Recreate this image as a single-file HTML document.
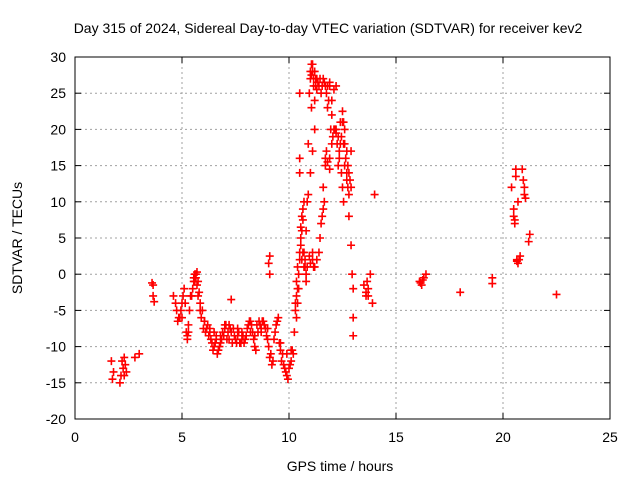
<!DOCTYPE html>
<html><head><meta charset="utf-8"><style>
body{margin:0;background:#fff}
svg text{font-family:"Liberation Sans",sans-serif;font-size:14px;fill:#000}
</style></head><body>
<svg id="chart" width="640" height="480" viewBox="0 0 640 480" xmlns="http://www.w3.org/2000/svg">
<rect width="640" height="480" fill="#fff"/>
<text x="328" y="33" text-anchor="middle">Day 315 of 2024, Sidereal Day-to-day VTEC variation (SDTVAR) for receiver kev2</text>
<text x="340" y="471" text-anchor="middle">GPS time / hours</text>
<text x="22" y="238" text-anchor="middle" transform="rotate(-90 22 238)">SDTVAR / TECUs</text>
<g id="grid"></g><g id="axes"></g><g id="pts"></g>
</svg>
<script>
const xTicks=[0,5,10,15,20,25];
const yTicks=[-20,-15,-10,-5,0,5,10,15,20,25,30];
const tHours=[1.7,1.75,1.8,2.1,2.15,2.2,2.25,2.3,2.3,2.35,2.4,2.8,3.0,3.6,3.65,3.7,3.65,4.6,4.7,4.75,4.8,4.9,4.95,5.0,5.05,5.1,5.2,5.25,5.3,5.35,5.4,5.5,5.55,5.6,5.65,5.7,5.75,5.8,5.85,5.9,5.95,6.0,6.1,6.2,6.3,6.4,6.5,6.6,6.7,6.8,6.9,7.0,7.1,7.2,7.3,7.4,7.5,7.6,7.7,7.8,7.9,8.0,8.1,8.2,8.3,8.4,8.5,8.6,8.7,8.8,8.9,9.0,9.1,9.2,9.3,9.4,9.5,9.6,9.7,9.8,9.9,10.0,10.1,10.2,10.25,10.3,10.35,10.4,10.45,10.5,10.55,10.6,10.65,10.7,10.75,10.8,10.85,10.9,10.95,11.0,11.05,11.1,11.15,11.2,11.3,11.4,11.5,11.6,11.7,11.8,11.9,12.0,12.1,12.2,12.3,12.4,12.5,12.6,12.7,12.8,12.9,12.0,11.9,11.7,11.6,11.5,11.4,11.3,11.2,11.1,12.8,12.9,12.95,13.0,13.0,13.0,12.6,12.7,12.4,12.3,11.2,11.1,11.0,10.9,10.8,10.7,10.5,10.5,10.5,13.5,13.6,13.7,13.8,13.9,14.0,16.1,16.2,16.3,16.4,18.0,19.5,19.5,20.4,20.5,20.55,20.6,20.65,20.7,20.8,20.7,20.9,21.0,21.05,21.2,21.25,22.5,9.1,9.05,9.1,7.3,10.4,10.35,6.05,6.3,6.6,7.0,7.6,8.2,8.7,9.35,9.6,9.9,10.1,12.5,12.2,11.8,12.75,12.55,11.05,11.25,
6.05,6.15,6.25,6.35,6.45,6.55,6.65,6.75,6.85,6.95,7.05,7.15,7.25,7.35,7.45,7.55,7.65,7.75,7.85,7.95,8.05,8.15,8.25,8.35,8.45,8.55,8.65,8.75,8.85,8.95,9.05,9.15,9.25,9.45,9.55,9.65,9.75,9.85,9.95,10.05,10.15,6.5,6.8,7.2,7.8,8.4,9.0,5.85,5.75,5.7,5.65,5.6,5.55,5.45,5.0,4.85,5.15,5.25,5.3,
10.3,10.35,10.4,10.45,10.5,10.55,10.6,10.65,10.7,10.75,10.8,10.85,10.95,11.0,11.1,11.15,10.6,10.65,10.55,
11.0,11.05,11.1,11.15,11.2,11.25,11.3,11.35,11.45,11.55,11.65,11.75,11.85,11.95,12.05,12.15,12.25,12.35,12.45,12.55,12.6,12.65,12.7,12.75,12.8,12.85,12.9,11.9,11.8,11.75,11.7,11.65,11.55,11.6,11.45,12.0,12.1,12.2,11.9,12.5,12.55,12.45,12.35,
20.5,20.55,20.6,20.65,20.75,20.95,21.0,13.6,13.65,13.7,16.15,16.25];
const sdtvar=[-12,-14.5,-13.5,-15,-14,-12,-13,-14,-11.5,-12.5,-13.5,-11.5,-11,-1.2,-3,-3.8,-1.5,-3,-4,-5,-6.5,-6,-5,-4,-3,-2,-8,-9,-7,-5,-3,-2,-1,0,-0.5,0.3,-1,-2.5,-4,-6,-5,-7.5,-8,-7,-8,-9.5,-10,-9,-10.5,-9.5,-8,-7.5,-9,-7,-8,-7.5,-9,-8.5,-9.5,-9,-9.5,-8.5,-7,-6.5,-8,-10,-7,-6.5,-8,-6.5,-7.5,-9,-11.5,-12.5,-9,-7,-6,-10.5,-11,-13,-14,-13,-12,-11,-8,-5,-3,-2,0,2,4,6,7.5,3,1,-1,10,18,25,27,29,28,26,24,27,26,25,27,26,23,26,22,20,19.5,19,21,22.5,20,17,14,12,18,16,15,12,7,3,2,1,2,8,4,0,-2,-6,-8.5,15,13,18,15,20,17,14,11,6,10,16,14,25,-1.5,-3,-2,0,-4,11,-1,-1.5,-0.5,0,-2.5,-0.5,-1.3,12,8,7,14.5,2,1.5,2.5,10,14.5,12,10.5,4.5,5.5,-2.8,2.5,1.5,0,-3.5,-4,-6,-6.5,-7.5,-8.5,-7,-7.5,-8,-7.5,-8,-9.5,-11,-10.5,21,20,26,12,18,23,27,
-6.5,-7.5,-8.5,-9,-10.5,-9.5,-11,-10,-9,-8.5,-7,-8,-7.5,-9.5,-8.5,-9.5,-8,-9.5,-8.5,-9,-7.5,-6.5,-7,-9,-10.5,-8,-7,-6.5,-7,-8.5,-10,-11,-12,-6.5,-9.5,-12,-12.5,-13.5,-14.5,-12.5,-10.5,-8,-8.5,-9,-8,-8.5,-7.5,-5,-3,-1.5,0,-1,-0.5,-3,-6,-6,-4,-8.5,-8,
-4,-1,1,-2,3,5,2,3,1,2,0,1,2.5,1.5,3,1,8,9,6.5,
28,27.5,29,27,28,26,25.5,26.5,27,26,26.5,25,24,20,19,20,18,17,19,21,18,16,14,15,11,13,17,14.5,15.5,17,16,10,8,9,5,24,25.5,26,26.5,12,10,14,16,
9,7.5,13.5,1.8,2,13,11,-2.5,-1,-3,-1.2,-0.8];
const X0=75,X1=610,Y0=419,Y1=57;
const xs=v=>X0+(v-0)/25*(X1-X0);
const ys=v=>Y0-(v+20)/50*(Y0-Y1);
const NS="http://www.w3.org/2000/svg";
const g=document.getElementById('grid'),a=document.getElementById('axes'),p=document.getElementById('pts');
function mk(t,at){const e=document.createElementNS(NS,t);for(const k in at)e.setAttribute(k,at[k]);return e;}
xTicks.forEach(v=>{const x=xs(v);
 if(v>0&&v<25){const l=mk('line',{x1:x,x2:x,y1:Y0,y2:Y1,stroke:'#a0a0a0','stroke-dasharray':'2,3'});
 
 g.appendChild(l);}
 a.appendChild(mk('line',{x1:x,x2:x,y1:Y0,y2:Y0-6,stroke:'#000'}));
 a.appendChild(mk('line',{x1:x,x2:x,y1:Y1,y2:Y1+6,stroke:'#000'}));
 const t=mk('text',{x:x,y:Y0+23,'text-anchor':'middle'});t.textContent=v;
 
 a.appendChild(t);});
yTicks.forEach(v=>{const y=ys(v);
 if(v>-20&&v<30){const l=mk('line',{x1:X0,x2:X1,y1:y,y2:y,stroke:'#a0a0a0','stroke-dasharray':'2,3'});
 
 g.appendChild(l);}
 a.appendChild(mk('line',{x1:X0,x2:X0+6,y1:y,y2:y,stroke:'#000'}));
 a.appendChild(mk('line',{x1:X1,x2:X1-6,y1:y,y2:y,stroke:'#000'}));
 const t=mk('text',{x:X0-9,y:y+5,'text-anchor':'end'});t.textContent=v;
 
 a.appendChild(t);});
const fr=mk('rect',{x:X0,y:Y1,width:X1-X0,height:Y0-Y1,fill:'none',stroke:'#000'});

a.appendChild(fr);
tHours.forEach((t,i)=>{const x=xs(t),y=ys(sdtvar[i]);
 const m=mk('path',{d:`M${x-4},${y}H${x+4}M${x},${y-4}V${y+4}`,stroke:'#f00','stroke-width':1.6,fill:'none'});
 
 p.appendChild(m);});
</script>
</body></html>
